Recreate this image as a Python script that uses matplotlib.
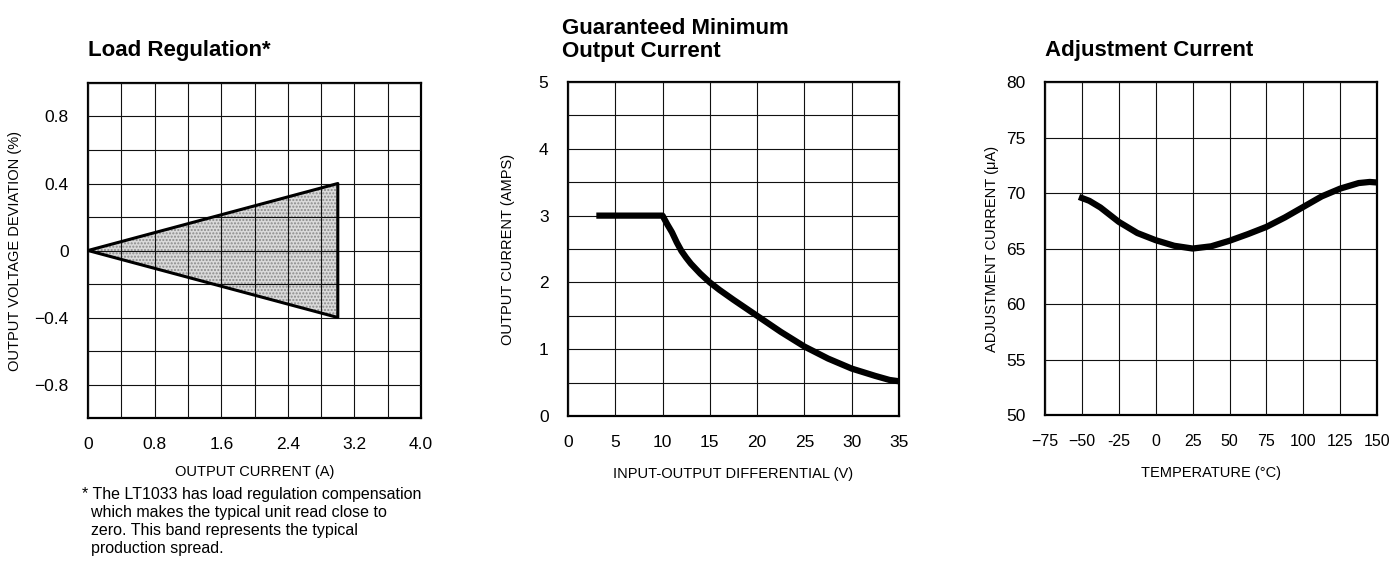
import matplotlib
matplotlib.use("Agg")
import matplotlib.pyplot as plt
from matplotlib.patches import Polygon

# Load regulation band (triangle corners)
band_x = [0.0, 3.0, 3.0]
band_y = [0.0, 0.4, -0.4]

# Guaranteed minimum output current
vdiff = [3, 5, 7.5, 10, 10.5, 11, 11.5, 12, 12.5, 13, 14, 15, 16, 17.5, 20,
         22.5, 25, 27.5, 30, 32.5, 34, 35]
iout = [3.0, 3.0, 3.0, 3.0, 2.87, 2.75, 2.6, 2.47, 2.37, 2.28, 2.13, 2.0,
        1.89, 1.74, 1.5, 1.26, 1.04, 0.86, 0.71, 0.6, 0.54, 0.52]

# Adjustment current vs temperature
temp = [-52, -45, -37.5, -25, -12.5, 0, 12.5, 25, 37.5, 50, 62.5, 75, 87.5,
        100, 112.5, 125, 137.5, 145, 150]
iadj = [69.65, 69.3, 68.7, 67.4, 66.4, 65.75, 65.25, 65.0, 65.2, 65.7, 66.3,
        66.95, 67.8, 68.75, 69.7, 70.4, 70.9, 71.0, 70.95]

plt.rcParams['font.family'] = ['Liberation Sans Narrow', 'Liberation Sans', 'DejaVu Sans']
plt.rcParams['axes.unicode_minus'] = True


def style_axes(ax, size=12.5):
    ax.grid(True, color='#111111', linewidth=0.8)
    ax.set_axisbelow(False)
    ax.tick_params(length=0, pad=14, labelsize=size)
    for sp in ax.spines.values():
        sp.set_linewidth(1.6)


fig = plt.figure(figsize=(13.91, 5.72), dpi=100)

# ---- Load Regulation ----
ax1 = fig.add_axes([0.0633, 0.2692, 0.2394, 0.5857])
ax1.set_xlim(0, 4.0)
ax1.set_ylim(-1.0, 1.0)
ax1.set_xticks([i * 0.4 for i in range(11)])
ax1.set_xticklabels(['0', '', '0.8', '', '1.6', '', '2.4', '', '3.2', '', '4.0'])
ax1.set_yticks([-1.0 + i * 0.2 for i in range(11)])
ax1.set_yticklabels(['', '\u22120.8', '', '\u22120.4', '', '0', '', '0.4', '', '0.8', ''])
style_axes(ax1)
corners = list(zip(band_x, band_y))
ax1.add_patch(Polygon(corners, closed=True, facecolor='#dadada',
                      edgecolor='none', zorder=1))
# stipple texture on top of the grey
ax1.add_patch(Polygon(corners, closed=True, facecolor='none',
                      edgecolor='#8a8a8a', linewidth=0, hatch='.....', zorder=1.1))
ax1.plot(band_x + band_x[:1], band_y + band_y[:1], color='black', lw=2.2, zorder=3)
ax1.set_xlabel('OUTPUT CURRENT (A)', fontsize=10.5, labelpad=9)
ax1.set_ylabel('OUTPUT VOLTAGE DEVIATION (%)', fontsize=10.5, labelpad=9)
fig.text(0.0633, 0.902, 'Load Regulation*', fontsize=16, fontweight='bold',
         ha='left', va='baseline')
fig.text(0.059, 0.148,
         '* The LT1033 has load regulation compensation\n'
         '  which makes the typical unit read close to\n'
         '  zero. This band represents the typical\n'
         '  production spread.',
         fontsize=11.5, ha='left', va='top', linespacing=1.25)

# ---- Guaranteed Minimum Output Current ----
ax2 = fig.add_axes([0.4083, 0.2727, 0.238, 0.5839])
ax2.set_xlim(0, 35)
ax2.set_ylim(0, 5)
ax2.set_xticks(range(0, 36, 5))
ax2.set_yticks([i * 0.5 for i in range(11)])
ax2.set_yticklabels(['0', '', '1', '', '2', '', '3', '', '4', '', '5'])
style_axes(ax2)
ax2.plot(vdiff, iout, color='black', lw=4.5, solid_capstyle='butt', zorder=3,
         clip_on=False)
ax2.set_xlabel('INPUT-OUTPUT DIFFERENTIAL (V)', fontsize=10.5, labelpad=12)
ax2.set_ylabel('OUTPUT CURRENT (AMPS)', fontsize=10.5, labelpad=17)
fig.text(0.404, 0.9, 'Guaranteed Minimum\nOutput Current', fontsize=16,
         fontweight='bold', ha='left', va='baseline', linespacing=1.15)

# ---- Adjustment Current ----
ax3 = fig.add_axes([0.7513, 0.2745, 0.2387, 0.582])
ax3.set_xlim(-75, 150)
ax3.set_ylim(50, 80)
ax3.set_xticks(range(-75, 151, 25))
ax3.set_xticklabels(['\u221275', '\u221250', '-25', '0', '25', '50', '75',
                     '100', '125', '150'])
ax3.set_yticks(range(50, 81, 5))
style_axes(ax3)
ax3.tick_params(axis='x', labelsize=11.5)
ax3.plot(temp, iadj, color='black', lw=4.5, solid_capstyle='butt', zorder=3,
         clip_on=False)
ax3.set_xlabel('TEMPERATURE (\u00b0C)', fontsize=10.5, labelpad=12)
ax3.set_ylabel('ADJUSTMENT CURRENT (\u03bcA)', fontsize=10.5, labelpad=5)
fig.text(0.7513, 0.902, 'Adjustment Current', fontsize=16, fontweight='bold',
         ha='left', va='baseline')

fig.savefig('out.png', dpi=100)
